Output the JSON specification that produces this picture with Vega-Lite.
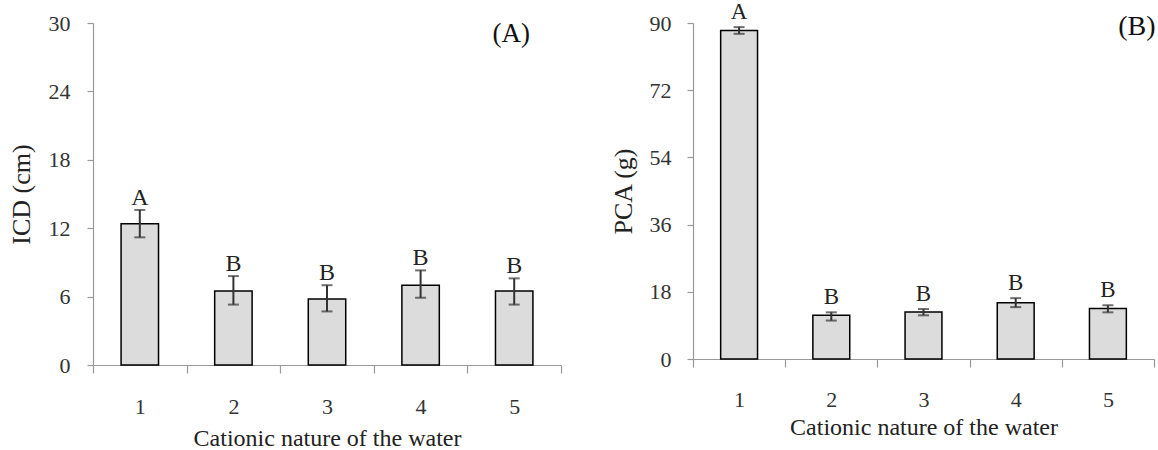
{
  "$schema": "https://vega.github.io/schema/vega-lite/v6.json",
  "padding": {"left": 8, "top": 1, "right": 0, "bottom": 0},
  "background": "white",
  "spacing": 48,
  "config": {
    "view": {"stroke": null},
    "font": "Liberation Serif",
    "axis": {
      "grid": false,
      "domainColor": "#999999",
      "domainWidth": 1.2,
      "tickColor": "#999999",
      "tickWidth": 1.2,
      "labelFont": "Liberation Serif",
      "titleFont": "Liberation Serif",
      "labelColor": "#333333",
      "titleColor": "#222222",
      "titleFontWeight": "normal",
      "labelFontSize": 22
    }
  },
  "hconcat": [
    {
      "width": 468,
      "height": 342,
      "layer": [
        {
          "data": {"values": [
            {"water": "1", "mean": 12.4, "lo": 11.2, "hi": 13.6, "group": "A"},
            {"water": "2", "mean": 6.5, "lo": 5.3, "hi": 7.8, "group": "B"},
            {"water": "3", "mean": 5.8, "lo": 4.7, "hi": 7.0, "group": "B"},
            {"water": "4", "mean": 7.0, "lo": 5.9, "hi": 8.3, "group": "B"},
            {"water": "5", "mean": 6.5, "lo": 5.3, "hi": 7.6, "group": "B"}
          ]},
          "encoding": {
            "x": {
              "field": "water",
              "type": "ordinal",
              "title": "Cationic nature of the water",
              "scale": {"domain": ["1", "2", "3", "4", "5"], "paddingInner": 0, "paddingOuter": 0},
              "axis": {"labelAngle": 0, "tickBand": "extent", "tickSize": 8, "labelPadding": 23, "titleFontSize": 24, "titlePadding": 9}
            }
          },
          "layer": [
            {
              "mark": {"type": "bar", "width": {"band": 0.4}, "fill": "#dcdcdc", "stroke": "#000000", "strokeWidth": 1.5},
              "encoding": {
                "y": {"field": "mean", "type": "quantitative", "title": "ICD (cm)", "scale": {"domain": [0, 30], "nice": false},
                  "axis": {"values": [0, 6, 12, 18, 24, 30], "titleFontSize": 26, "tickSize": 6, "labelPadding": 17, "titlePadding": 14}}
              }
            },
            {
              "mark": {"type": "rule", "color": "#333333", "strokeWidth": 2},
              "encoding": {"y": {"field": "lo", "type": "quantitative", "title": "ICD (cm)"}, "y2": {"field": "hi"}}
            },
            {
              "mark": {"type": "tick", "color": "#333333", "size": 11, "thickness": 2},
              "encoding": {"y": {"field": "hi", "type": "quantitative", "title": "ICD (cm)"}}
            },
            {
              "mark": {"type": "tick", "color": "#333333", "size": 11, "thickness": 2},
              "encoding": {"y": {"field": "lo", "type": "quantitative", "title": "ICD (cm)"}}
            },
            {
              "mark": {"type": "text", "fontSize": 24, "baseline": "alphabetic", "dy": -5, "color": "#222222", "font": "Liberation Serif"},
              "encoding": {"y": {"field": "hi", "type": "quantitative", "title": "ICD (cm)"}, "text": {"field": "group"}}
            }
          ]
        },
        {
          "data": {"values": [{"panel": "(A)", "water": "5", "level": 29}]},
          "mark": {"type": "text", "fontSize": 27, "baseline": "middle", "align": "center", "dx": -3, "color": "#111111", "font": "Liberation Serif"},
          "encoding": {
            "x": {"field": "water", "type": "ordinal", "title": "Cationic nature of the water"},
            "y": {"field": "level", "type": "quantitative", "title": "ICD (cm)"},
            "text": {"field": "panel"}
          }
        }
      ]
    },
    {
      "width": 461,
      "height": 336,
      "layer": [
        {
          "data": {"values": [
            {"water": "1", "mean": 88.0, "lo": 87.1, "hi": 88.9, "group": "A"},
            {"water": "2", "mean": 11.7, "lo": 10.3, "hi": 12.5, "group": "B"},
            {"water": "3", "mean": 12.6, "lo": 11.7, "hi": 13.4, "group": "B"},
            {"water": "4", "mean": 15.1, "lo": 13.9, "hi": 16.3, "group": "B"},
            {"water": "5", "mean": 13.5, "lo": 12.5, "hi": 14.4, "group": "B"}
          ]},
          "encoding": {
            "x": {
              "field": "water",
              "type": "ordinal",
              "title": "Cationic nature of the water",
              "scale": {"domain": ["1", "2", "3", "4", "5"], "paddingInner": 0, "paddingOuter": 0},
              "axis": {"labelAngle": 0, "tickBand": "extent", "tickSize": 8, "labelPadding": 22, "titleFontSize": 24, "titlePadding": 5}
            }
          },
          "layer": [
            {
              "mark": {"type": "bar", "width": {"band": 0.4}, "fill": "#dcdcdc", "stroke": "#000000", "strokeWidth": 1.5},
              "encoding": {
                "y": {"field": "mean", "type": "quantitative", "title": "PCA (g)", "scale": {"domain": [0, 90], "nice": false},
                  "axis": {"values": [0, 18, 36, 54, 72, 90], "titleFontSize": 26, "tickSize": 6, "labelPadding": 16, "titlePadding": 13}}
              }
            },
            {
              "mark": {"type": "rule", "color": "#333333", "strokeWidth": 2},
              "encoding": {"y": {"field": "lo", "type": "quantitative", "title": "PCA (g)"}, "y2": {"field": "hi"}}
            },
            {
              "mark": {"type": "tick", "color": "#333333", "size": 11, "thickness": 2},
              "encoding": {"y": {"field": "hi", "type": "quantitative", "title": "PCA (g)"}}
            },
            {
              "mark": {"type": "tick", "color": "#333333", "size": 11, "thickness": 2},
              "encoding": {"y": {"field": "lo", "type": "quantitative", "title": "PCA (g)"}}
            },
            {
              "mark": {"type": "text", "fontSize": 23, "baseline": "alphabetic", "dy": -8, "color": "#222222", "font": "Liberation Serif"},
              "encoding": {"y": {"field": "hi", "type": "quantitative", "title": "PCA (g)"}, "text": {"field": "group"}}
            }
          ]
        },
        {
          "data": {"values": [{"panel": "(B)", "water": "5", "level": 89}]},
          "mark": {"type": "text", "fontSize": 28, "baseline": "middle", "align": "center", "dx": 29, "color": "#111111", "font": "Liberation Serif"},
          "encoding": {
            "x": {"field": "water", "type": "ordinal", "title": "Cationic nature of the water"},
            "y": {"field": "level", "type": "quantitative", "title": "PCA (g)"},
            "text": {"field": "panel"}
          }
        }
      ]
    }
  ]
}
